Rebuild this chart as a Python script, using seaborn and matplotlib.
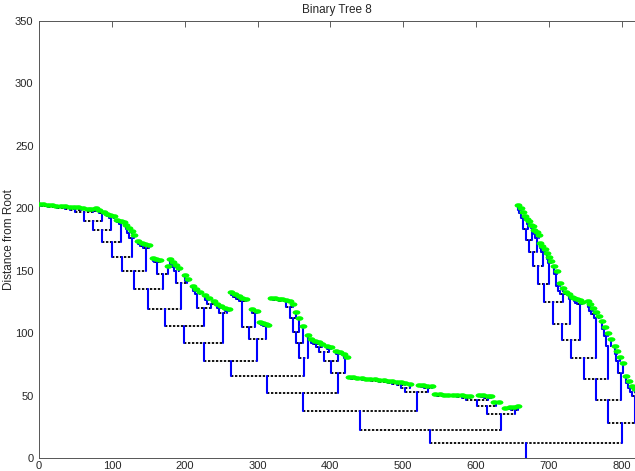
import matplotlib
matplotlib.use("Agg")
import matplotlib.pyplot as plt
import pandas as pd
import seaborn as sns
from matplotlib.markers import MarkerStyle
from matplotlib.transforms import Affine2D

# leaf clusters: (leaf x, leaf distance from root, internal join heights)
# left-hand subtree
base_l = ([0, 6, 12, 18, 24, 30, 36, 42, 48],
          [203.4, 203.1, 202.8, 202.4, 202.0, 201.6, 201.9, 201.2, 200.8],
          [202.6, 202.2, 201.8, 201.4, 201.0, 200.6, 200.2, 199.8])
c057 = ([54, 60], [201.2, 200.6], [200.0])
c074 = ([67, 72, 78], [199.8, 199.2, 200.0], [198.4, 197.8])
c086 = ([83, 89], [198.6, 197.4], [196.2])
c099 = ([93, 98, 103], [195.8, 195.0, 194.2], [193.8, 192.6])
c113 = ([107, 112, 116], [191.0, 190.2, 189.4], [189.0, 187.8])
c127 = ([119, 123, 127, 131], [186.5, 184.5, 182.0, 178.5], [183.5, 180.5, 176.5])
c147 = ([136, 141, 146, 151], [173.5, 172.5, 171.5, 170.5], [171.5, 170.0, 168.5])
c170 = ([156, 161, 166, 177], [159.8, 159.2, 158.6, 154.0], [157.8, 156.8, 147.0])
c198a = ([180, 184, 188, 192], [159.5, 157.0, 154.5, 152.0], [155.5, 153.0, 149.5])
c198b = ([200, 205], [146.5, 143.5], [141.5])
c225a = ([211, 216, 221], [138.0, 135.5, 133.0], [134.0, 131.5])
c225b = ([228, 234, 240], [130.5, 128.0, 125.5], [126.5, 123.5])
c254a = ([245, 250], [123.5, 122.0], [120.0])
c254b = ([256, 261], [120.5, 119.0], [118.0])
c287a = ([264, 269, 274, 279, 284], [133.0, 131.5, 130.0, 128.5, 127.0],
         [130.5, 129.0, 127.5, 126.0])
c287b = ([293, 299], [119.5, 117.5], [116.0])
c313 = ([303, 307, 311, 315], [108.8, 108.2, 107.5, 106.2], [107.5, 106.8, 105.5])
c351 = ([319, 324, 329, 334, 339, 344], [128.0, 127.8, 127.4, 127.0, 126.6, 126.0],
        [127.2, 126.9, 126.5, 126.1, 125.4])
c351_steps = ([349, 353, 357, 362], [123.0, 117.0, 112.0, 106.0], [121.0, 112.0, 101.0, 92.0])
c369 = (369, 98.5)
c384 = ([374, 379, 384, 389], [95.0, 94.0, 93.0, 91.5], [92.5, 91.0, 89.0])
c398 = ([396, 401], [90.0, 89.0], [87.5])
c410 = ([408, 413], [86.0, 85.0], [83.0])
c420 = ([418, 423], [83.0, 81.0], [80.0])
c503 = ([425, 431, 437, 443, 449, 455, 461, 467, 473, 479, 485, 491, 497, 503, 509],
        [65.0, 64.6, 64.4, 64.0, 63.6, 63.4, 63.0, 62.6, 62.2, 62.0, 61.6, 61.0, 60.6, 60.2, 59.4],
        [64.0, 63.6, 63.2, 62.9, 62.6, 62.2, 61.8, 61.4, 61.0, 60.6, 60.2, 59.6, 58.8, 56.4])
c533 = ([521, 527, 533, 539], [58.8, 58.4, 58.0, 57.4], [57.8, 57.2, 56.2])
c586 = ([544, 550, 556, 562, 568, 574, 580, 586, 592],
        [51.0, 50.9, 50.8, 50.6, 50.5, 50.4, 50.2, 50.0, 49.8],
        [50.2, 50.0, 49.9, 49.7, 49.5, 49.3, 49.0, 48.4])
c617 = ([604, 610, 616, 621], [50.4, 50.2, 49.9, 49.5], [49.4, 49.0, 48.2])
c628 = ([625, 631], [45.2, 44.8], [43.8])
c652 = ([640, 646, 652, 658], [40.4, 40.7, 41.0, 41.3], [39.6, 39.2, 38.4])

left_joins = [199.0, 196.8, 190.0, 183.0, 173.0, 161.0, 149.6, 135.0,
              119.0, 105.6, 92.0, 78.0, 65.6, 52.0, 37.9, 22.4]
inner_joins = {"c198": 140.0, "c225": 120.0, "c254": 116.0, "c287": 105.0,
               "c301": 95.0, "c362": 80.0, "c411": 68.0, "c516": 53.0,
               "c598": 46.4, "c614": 41.6, "c633": 35.2}
c384_joins = [85.0, 78.0]

# right-hand subtree
base_r = ([658, 661, 664, 667], [202.5, 200.0, 197.0, 194.0], [199.0, 196.0, 192.5])
r_a = ([670, 673], [191.5, 189.5], [187.5])
r_b = ([675, 678], [187.0, 185.5], [184.0])
r_c = ([680, 683, 686], [183.0, 181.0, 179.0], [179.5, 176.5])
r_d = ([688, 691, 694], [172.5, 170.0, 167.0], [168.0, 165.0])
r_e = ([697, 700, 703], [164.0, 161.0, 158.0], [159.5, 156.0])
r_f = ([707, 711, 715, 719, 723], [154.0, 150.0, 140.0, 136.0, 133.0], [147.0, 138.0, 134.0, 131.0])
r_g = ([727, 731], [131.0, 129.0], [127.0])
r_h = ([734, 738, 742, 746], [128.5, 127.5, 126.5, 125.0], [126.0, 124.5, 123.0])
r_i = ([753, 757, 761, 765, 769], [126.0, 123.0, 120.0, 117.0, 114.0], [121.0, 118.0, 115.0, 112.0])
r_j = ([773, 777, 781, 785], [110.0, 105.0, 100.0, 95.0], [103.0, 98.0, 90.0])
r_k = ([790, 794, 798, 802], [90.0, 86.0, 81.0, 76.0], [83.0, 78.0, 68.0])
r_l = ([806, 810, 814, 818, 822], [66.0, 62.0, 58.0, 55.0, 52.0], [60.0, 56.0, 53.0, 50.0])
right_joins = [183.7, 174.4, 165.0, 153.6, 139.7, 125.0, 107.7, 94.4, 79.7, 63.2, 46.4, 27.7]
root_join = 11.7


def chain(c):
    xs, hs, js = c
    node = (xs[0], hs[0])
    for x, h, j in zip(xs[1:], hs[1:], js):
        node = (j, node, (x, h))
    return node


def fold(base, joins, subs):
    node = base
    for j, s in zip(joins, subs):
        node = (j, node, s)
    return node


ij = inner_joins
sub_198 = (ij["c198"], chain(c198a), chain(c198b))
sub_225 = (ij["c225"], chain(c225a), chain(c225b))
sub_254 = (ij["c254"], chain(c254a), chain(c254b))
sub_301 = (ij["c301"], (ij["c287"], chain(c287a), chain(c287b)), chain(c313))
sub_351 = fold(chain(c351), c351_steps[2], list(zip(c351_steps[0], c351_steps[1])))
sub_362 = (ij["c362"], sub_351, c369)
sub_411 = (ij["c411"], fold(chain(c384), c384_joins, [chain(c398), chain(c410)]), chain(c420))
sub_516 = (ij["c516"], chain(c503), chain(c533))
sub_633 = (ij["c633"],
           (ij["c614"], (ij["c598"], chain(c586), chain(c617)), chain(c628)),
           chain(c652))

left_tree = fold(chain(base_l), left_joins,
                 [chain(c) for c in (c057, c074, c086, c099, c113, c127, c147, c170)]
                 + [sub_198, sub_225, sub_254, sub_301, sub_362, sub_411, sub_516, sub_633])
right_tree = fold(chain(base_r), right_joins,
                  [chain(c) for c in (r_a, r_b, r_c, r_d, r_e, r_f, r_g, r_h, r_i, r_j, r_k, r_l)])
tree = (root_join, left_tree, right_tree)

# dendrogram layout: parent sits halfway between its children
leaf_pts, blue_segs, black_segs = [], [], []


def place(node):
    if len(node) == 2:
        leaf_pts.append(node)
        return node
    h, left, right = node
    xl, hl = place(left)
    xr, hr = place(right)
    black_segs.append(((xl, h), (xr, h)))
    blue_segs.append(((xl, h), (xl, hl)))
    blue_segs.append(((xr, h), (xr, hr)))
    return ((xl + xr) / 2, h)


x_root, h_root = place(tree)
blue_segs.append(((x_root, 0), (x_root, h_root)))


def seg_frame(segs):
    rows = []
    for i, (a, b) in enumerate(segs):
        rows.append({"seg": i, "x": a[0], "y": a[1]})
        rows.append({"seg": i, "x": b[0], "y": b[1]})
    return pd.DataFrame(rows)


df_black = seg_frame(black_segs)
df_blue = seg_frame(blue_segs)
df_leaf = pd.DataFrame(leaf_pts, columns=["x", "y"])

sns.set_style("white")
plt.rcParams['font.family'] = ['Liberation Sans', 'DejaVu Sans']

fig = plt.figure(figsize=(6.35, 4.71), dpi=100)
ax = fig.add_axes([39 / 635, 13 / 471, 850 * 0.7285 / 635, 437 / 471])

sns.lineplot(data=df_black, x="x", y="y", units="seg", estimator=None, sort=False,
             color="black", lw=1.3, linestyle=(0, (1.3, 0.9)), ax=ax, legend=False)
sns.lineplot(data=df_blue, x="x", y="y", units="seg", estimator=None, sort=False,
             color="#0000ff", lw=1.5, ax=ax, legend=False)

# wide leaf marker so neighbouring leaves merge into a band
leaf_marker = MarkerStyle("o", transform=Affine2D().scale(1.7, 1.0))
sns.scatterplot(data=df_leaf, x="x", y="y", color="#00ff00", s=11, linewidth=0,
                marker=leaf_marker, ax=ax, zorder=5, legend=False)

ax.set_xlim(0, 850)
ax.set_ylim(0, 350)
ax.set_xticks(range(0, 900, 100))
ax.set_yticks(range(0, 400, 50))
ax.tick_params(axis="both", direction="in", length=4.5, width=0.6, color="#444444",
               labelsize=8, top=True, right=True)
ax.tick_params(axis="x", pad=2)
ax.tick_params(axis="y", pad=4)
for s in ax.spines.values():
    s.set_color("#555555")
    s.set_linewidth(0.7)

ax.set_xlabel("")
ax.set_ylabel("Distance from Root", fontsize=8.5)
ax.yaxis.set_label_coords(-0.039, 0.5)
t = ax.set_title("Binary Tree 8", fontsize=8.5, pad=6)
t.set_x(0.481)

fig.savefig("out.png", dpi=100)
